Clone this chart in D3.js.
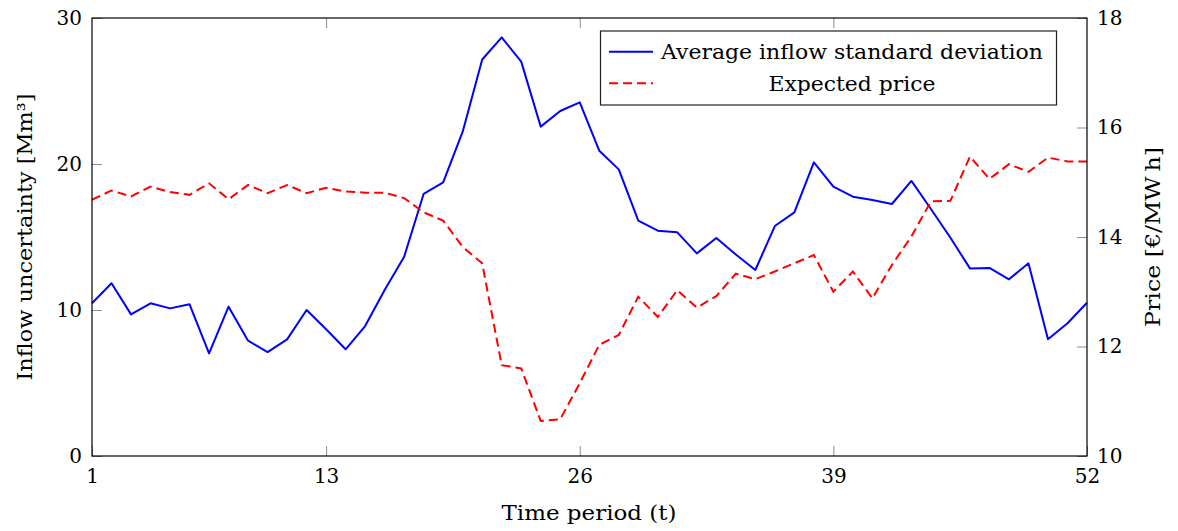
<!DOCTYPE html>
<html lang="en">
<head>
    <meta charset="UTF-8">
    <title>Inflow uncertainty and expected price</title>
    <script src="https://d3js.org/d3.v7.min.js"></script>
    <style>
        body { margin: 0; background: #fff; }
        svg { display: block; font-family: "DejaVu Serif", serif; }
        .tick line { stroke: #8c8c8c; stroke-width: 1; }
        .tick text { font-family: "DejaVu Serif", serif; font-size: 20px; fill: #000; }
        .axis-title { font-size: 21px; fill: #000; }
        .legend text { font-size: 21px; fill: #000; }
    </style>
</head>
<body>
    <svg id="chart" width="1178" height="531"></svg>
    <script>
        // time periods (weeks)
        const periods = [1, 2, 3, 4, 5, 6, 7, 8, 9, 10, 11, 12, 13, 14, 15, 16, 17, 18, 19, 20,
            21, 22, 23, 24, 25, 26, 27, 28, 29, 30, 31, 32, 33, 34, 35, 36, 37, 38, 39, 40,
            41, 42, 43, 44, 45, 46, 47, 48, 49, 50, 51, 52];

        // average inflow standard deviation [Mm3] (left axis)
        const inflowStd = [10.46, 11.83, 9.70, 10.46, 10.11, 10.39, 7.03, 10.23, 7.90, 7.12,
            7.99, 10.0, 8.68, 7.31, 8.90, 11.37, 13.65, 17.96, 18.74, 22.21,
            27.16, 28.67, 27.01, 22.56, 23.63, 24.22, 20.91, 19.63, 16.12, 15.43,
            15.32, 13.88, 14.93, 13.8, 12.74, 15.75, 16.69, 20.11, 18.45, 17.76,
            17.53, 17.26, 18.84, 16.92, 14.95, 12.85, 12.88, 12.10, 13.20, 7.99,
            9.09, 10.50];

        // expected price [EUR/MWh] (right axis)
        const expPrice = [14.68, 14.85, 14.74, 14.92, 14.82, 14.77, 14.98, 14.69, 14.95, 14.80,
            14.95, 14.80, 14.90, 14.83, 14.81, 14.81, 14.71, 14.45, 14.30, 13.82,
            13.52, 11.66, 11.60, 10.64, 10.67, 11.33, 12.03, 12.21, 12.91, 12.54,
            13.03, 12.71, 12.92, 13.33, 13.23, 13.37, 13.52, 13.67, 13.00, 13.37,
            12.88, 13.49, 14.01, 14.65, 14.66, 15.47, 15.06, 15.33, 15.19, 15.45,
            15.38, 15.38];

        const xTicks = [1, 13, 26, 39, 52];
        const leftTicks = [0, 10, 20, 30];
        const rightTicks = [10, 12, 14, 16, 18];
        const legendLabels = ["Average inflow standard deviation", "Expected price"];

        const plotLeft = 92, plotRight = 1087, plotTop = 18, plotBottom = 456;
        const tickLen = 10;

        const svg = d3.select("#chart");

        const x = d3.scaleLinear().domain([1, 52]).range([plotLeft, plotRight]);
        const yL = d3.scaleLinear().domain([0, 30]).range([plotBottom, plotTop]);
        const yR = d3.scaleLinear().domain([10, 18]).range([plotBottom, plotTop]);

        // axes (ticks drawn inward like pgfplots)
        svg.append("g")
            .attr("transform", `translate(0,${plotBottom})`)
            .call(d3.axisBottom(x).tickValues(xTicks).tickSizeInner(-tickLen).tickSizeOuter(0).tickPadding(13))
            .call(g => g.select(".domain").remove());

        svg.append("g")
            .attr("transform", `translate(0,${plotTop})`)
            .call(d3.axisTop(x).tickValues(xTicks.slice(1, -1)).tickSizeInner(-tickLen).tickSizeOuter(0).tickFormat(""))
            .call(g => g.select(".domain").remove());

        svg.append("g")
            .attr("transform", `translate(${plotLeft},0)`)
            .call(d3.axisLeft(yL).tickValues(leftTicks).tickSizeInner(-tickLen).tickSizeOuter(0).tickPadding(10))
            .call(g => g.select(".domain").remove());

        svg.append("g")
            .attr("transform", `translate(${plotRight},0)`)
            .call(d3.axisRight(yR).tickValues(rightTicks).tickSizeInner(-tickLen).tickSizeOuter(0).tickPadding(10))
            .call(g => g.select(".domain").remove());

        // lines
        const lineL = d3.line().x((d, i) => x(periods[i])).y(d => yL(d));
        const lineR = d3.line().x((d, i) => x(periods[i])).y(d => yR(d));

        svg.append("path")
            .datum(inflowStd)
            .attr("d", lineL)
            .attr("fill", "none")
            .attr("stroke", "#0000ff")
            .attr("stroke-width", 2)
            .attr("stroke-linejoin", "round");

        svg.append("path")
            .datum(expPrice)
            .attr("d", lineR)
            .attr("fill", "none")
            .attr("stroke", "#ff0000")
            .attr("stroke-width", 2)
            .attr("stroke-dasharray", "9,5");

        // frame
        svg.append("rect")
            .attr("x", plotLeft).attr("y", plotTop)
            .attr("width", plotRight - plotLeft).attr("height", plotBottom - plotTop)
            .attr("fill", "none")
            .attr("stroke", "#000")
            .attr("stroke-width", 1.2);

        // axis titles
        svg.append("text")
            .attr("class", "axis-title")
            .attr("x", (plotLeft + plotRight) / 2 - 0.5)
            .attr("y", 520)
            .attr("text-anchor", "middle")
            .attr("textLength", 175)
            .attr("lengthAdjust", "spacingAndGlyphs")
            .text("Time period (t)");

        svg.append("text")
            .attr("class", "axis-title")
            .attr("transform", `translate(32,${(plotTop + plotBottom) / 2}) rotate(-90)`)
            .attr("text-anchor", "middle")
            .attr("textLength", 287)
            .attr("lengthAdjust", "spacingAndGlyphs")
            .text("Inflow uncertainty [Mm³]");

        svg.append("text")
            .attr("class", "axis-title")
            .attr("transform", `translate(1160,${(plotTop + plotBottom) / 2}) rotate(-90)`)
            .attr("text-anchor", "middle")
            .attr("textLength", 180)
            .attr("lengthAdjust", "spacingAndGlyphs")
            .text("Price [€/MW\u2009h]");

        // legend
        const legend = svg.append("g").attr("class", "legend");
        legend.append("rect")
            .attr("x", 600.5).attr("y", 31)
            .attr("width", 456).attr("height", 74)
            .attr("fill", "#fff")
            .attr("stroke", "#222")
            .attr("stroke-width", 1.2);

        legend.append("line")
            .attr("x1", 609).attr("x2", 653).attr("y1", 51.7).attr("y2", 51.7)
            .attr("stroke", "#0000ff").attr("stroke-width", 2);
        legend.append("line")
            .attr("x1", 609).attr("x2", 653).attr("y1", 83.3).attr("y2", 83.3)
            .attr("stroke", "#ff0000").attr("stroke-width", 2)
            .attr("stroke-dasharray", "9,5");

        legend.append("text")
            .attr("x", 661).attr("y", 59)
            .attr("textLength", 382)
            .attr("lengthAdjust", "spacingAndGlyphs")
            .text(legendLabels[0]);
        legend.append("text")
            .attr("x", 852).attr("y", 90.5)
            .attr("text-anchor", "middle")
            .attr("textLength", 167)
            .attr("lengthAdjust", "spacingAndGlyphs")
            .text(legendLabels[1]);
    </script>
</body>
</html>
